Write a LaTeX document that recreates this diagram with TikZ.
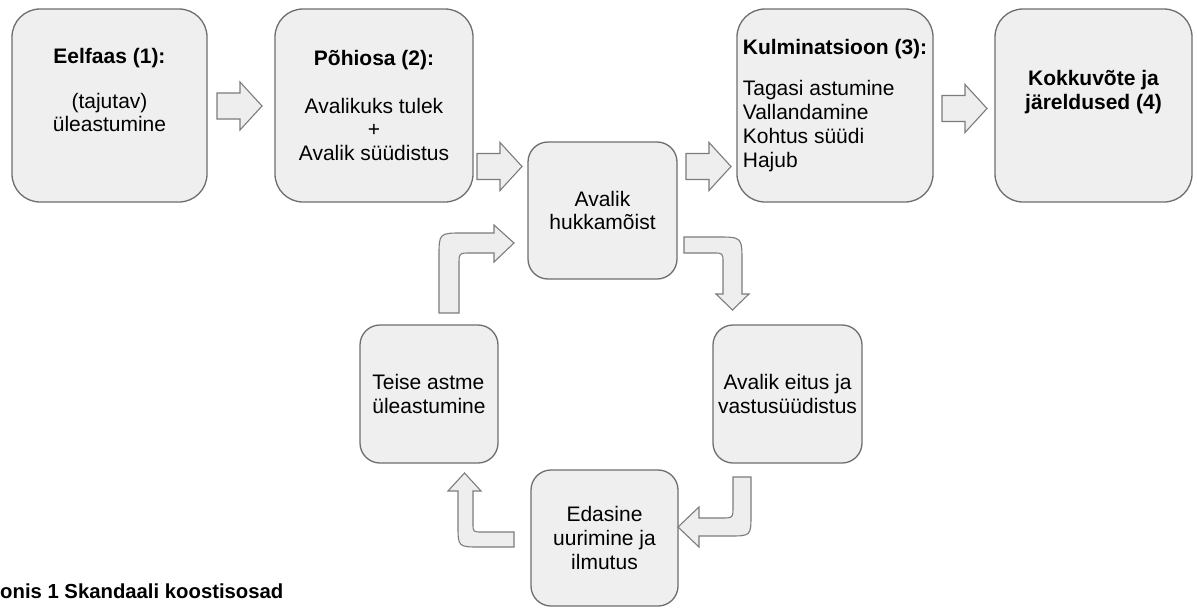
\documentclass[tikz,border=0pt]{standalone}
\usepackage{fontspec}
\setmainfont{Liberation Sans}
\usepackage[HTML]{xcolor}
\usepackage{tikz}

\definecolor{boxfill}{HTML}{EFEFEF}
\definecolor{boxline}{HTML}{6E6E6E}
\definecolor{arrowfill}{HTML}{EEEEEE}
\definecolor{arrowline}{HTML}{7C7C7C}

\tikzset{
  stage/.style={draw=boxline, fill=boxfill, line width=1.3pt, rounded corners=28pt,
    inner sep=0pt, minimum width=196pt, minimum height=193pt, align=center,
    font=\fontsize{21}{23.8}\selectfont},
  loopbox/.style={stage, rounded corners=20pt, minimum width=148pt, minimum height=137pt},
  blockarrow/.style={draw=arrowline, fill=arrowfill, line width=1.1pt, line join=miter},
}

\begin{document}
\begin{tikzpicture}[x=1pt,y=-1pt]
\fill[white] (0,0) rectangle (1197,608);

% Main stages
\node[stage, minimum width=195pt] (eelfaas) at (109.5,105.5)
  {\textbf{Eelfaas (1):}\\[21pt](tajutav)\\üleastumine\\ \strut};
\node[stage, minimum width=198pt] (pohiosa) at (374,105.5)
  {\textbf{Põhiosa (2):}\\[24pt]Avalikuks tulek\\+\\Avalik süüdistus};
\node[stage, align=left] (kulminatsioon) at (835,105.5)
  {\textbf{Kulminatsioon (3):}\\[17pt]Tagasi astumine\\Vallandamine\\Kohtus süüdi\\Hajub};
\node[stage, minimum width=197pt] (kokkuvote) at (1093.5,105.5)
  {\textbf{Kokkuvõte ja}\\\textbf{järeldused (4)}\\ \strut};

% Loop
\node[loopbox, minimum width=149pt] (hukkamoist) at (602.5,210.5) {Avalik\\hukkamõist};
\node[loopbox, minimum width=149pt, minimum height=138pt] (eitus) at (787.5,394)
  {Avalik eitus ja\\vastusüüdistus};
\node[loopbox, minimum width=147pt, minimum height=136pt] (uurimine) at (604.5,538)
  {Edasine\\uurimine ja\\ilmutus};
\node[loopbox, align=left, minimum width=138pt, minimum height=138pt] (teise) at (429,394)
  {Teise astme\\üleastumine};

% Straight block arrows
\foreach \ax/\ay in {217/106, 477/166.5, 686/166.5, 942/108.5}
  \draw[blockarrow] (\ax,\ay-13) -- ++(23,0) -- ++(0,-11) -- ++(22,24)
    -- ++(-22,24) -- ++(0,-11) -- ++(-23,0) -- cycle;

% Bent block arrows
\draw[blockarrow] (439,313) -- (439,257) .. controls (439,233) .. (463,233)
  -- (494,233) -- (494,225) -- (514,243) -- (494,262) -- (494,253)
  -- (471,253) .. controls (459,253) .. (459,265) -- (459,313) -- cycle;
\draw[blockarrow] (684,237) -- (717,237) .. controls (742,237) .. (742,262)
  -- (742,294) -- (749,294) -- (732.5,310) -- (716,294) -- (723,294)
  -- (723,263) .. controls (723,253) .. (713,253) -- (684,253) -- cycle;
\draw[blockarrow] (733,477) -- (751,477) -- (751,514) .. controls (751,536) .. (729,536)
  -- (699,536) -- (699,547) -- (678,527) -- (699,507) -- (699,518)
  -- (721,518) .. controls (733,518) .. (733,506) -- cycle;
\draw[blockarrow] (514,532) -- (514,547) -- (480,547) .. controls (458,547) .. (458,525)
  -- (458,491) -- (448,491) -- (464.5,473) -- (481,491) -- (473,491)
  -- (473,523) .. controls (473,532) .. (482,532) -- cycle;

\node[anchor=west, inner sep=0pt, font=\fontsize{20.3}{23.6}\selectfont\bfseries] (caption)
  at (0,591) {onis 1 Skandaali koostisosad};
\end{tikzpicture}
\end{document}
